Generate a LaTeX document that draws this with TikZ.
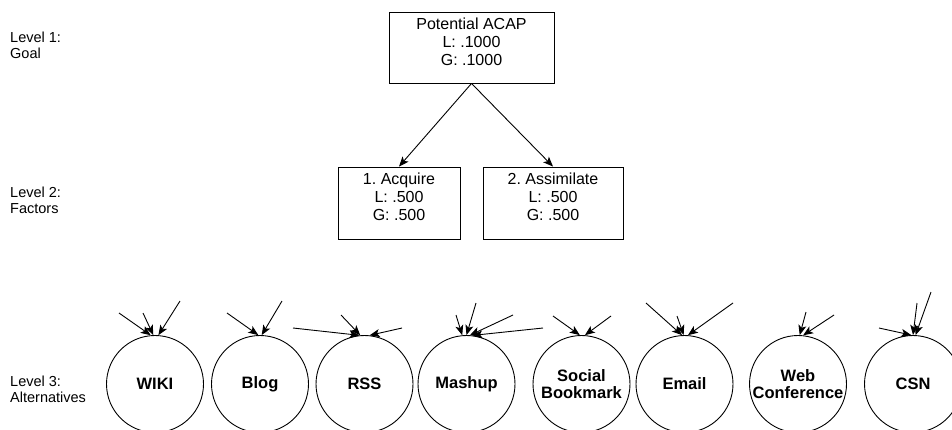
\documentclass[tikz,border=0pt]{standalone}
\usepackage{fontspec}
\setmainfont{Liberation Sans}
\frenchspacing
\usetikzlibrary{arrows.meta}

\tikzset{
  lvl/.style={anchor=west, align=left, inner sep=0pt, font=\fontsize{14.5}{16}\selectfont},
  factor/.style={draw, line width=0.9pt, align=center, minimum height=72pt, font=\fontsize{16}{18}\selectfont},
  alt/.style={draw, circle, line width=0.9pt, minimum size=97pt, inner sep=0pt, align=center, font=\bfseries\fontsize{16.5}{17}\selectfont},
  arr/.style={-{Stealth[length=10pt,width=8pt,inset=2.5pt]}, line width=0.9pt},
}

\begin{document}
\begin{tikzpicture}[x=1pt, y=-1pt]
  \useasboundingbox (0,0) rectangle (952,429);
  % level captions
  \node[lvl] (lv1) at (10,45.5) {Level 1:\\Goal};
  \node[lvl] (lv2) at (10,200) {Level 2:\\Factors};
  \node[lvl] (lv3) at (10,389.5) {Level 3:\\Alternatives};

  % goal and factors
  \node[factor, minimum width=165pt, minimum height=71pt] (goal) at (471.5,47.5) {Potential ACAP\\L: .1000\\G: .1000\\[-6pt]\mbox{}};
  \node[factor, minimum width=122pt] (acq) at (399,203) {1. Acquire\\L: .500\\G: .500\\[-6pt]\mbox{}};
  \node[factor, minimum width=140pt] (asm) at (553,203) {2. Assimilate\\L: .500\\G: .500\\[-6pt]\mbox{}};
  \draw[arr] (goal.south) -- (acq.north);
  \draw[arr] (goal.south) -- (asm.north);

  % alternatives
  \node[alt] (wiki) at (155,384) {WIKI};
  \node[alt] (blog) at (260,384) {Blog};
  \node[alt] (rss) at (364.5,384) {RSS};
  \node[alt] (mash) at (466.5,384) {Mashup};
  \node[alt] (sbm) at (581.5,384) {Social\\Bookmark};
  \node[alt] (email) at (684.5,384) {Email};
  \node[alt] (webc) at (798,384) {Web\\Conference};
  \node[alt] (csn) at (913,384) {CSN};

  % loose arrows into the alternatives
  \foreach \c/\x/\y/\ang [count=\i] in {wiki/119/313/95, wiki/143/313/92, wiki/180/301/86,
      blog/227/313/92, blog/282/301/88,
      rss/293/328/96, rss/341/315/95, rss/402/328/84,
      mash/456/315/95, mash/476/303/90, mash/513/315/86, mash/543/328/83,
      sbm/553/316/92, sbm/611/316/86,
      email/646/303/93, email/677/316/91, email/733/303/86,
      webc/806/312/88, webc/834/315/84,
      csn/879/328/92, csn/917/303/90, csn/931/292/87} {
    \coordinate (e\i) at (\x,\y);
    \draw[arr] (e\i) -- (\c.\ang);
  }
\end{tikzpicture}
\end{document}
